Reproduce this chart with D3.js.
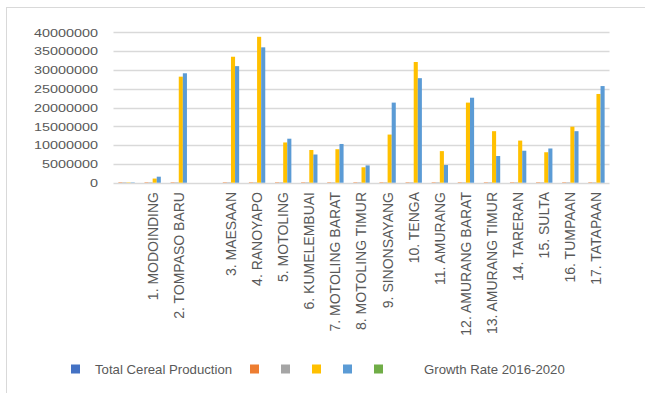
<!DOCTYPE html>
<html><head><meta charset="utf-8">
<script src="https://cdn.jsdelivr.net/npm/d3@7"></script>
<style>body{margin:0;background:#fff}svg{display:block}</style>
</head><body>
<svg id="chart" width="645" height="393"></svg>
<script>
const categories = ["", "1. MODOINDING", "2. TOMPASO BARU", " ", "3. MAESAAN", "4. RANOYAPO", "5. MOTOLING", "6. KUMELEMBUAI", "7. MOTOLING BARAT", "8. MOTOLING TIMUR", "9. SINONSAYANG", "10. TENGA", "11. AMURANG", "12. AMURANG BARAT", "13. AMURANG TIMUR", "14. TARERAN", "15. SULTA", "16. TUMPAAN", "17. TATAPAAN"];
const totalCerealProduction = [0, 0, 0, null, 0, 0, 0, 0, 0, 0, 0, 0, 0, 0, 0, 0, 0, 0, 0];
const seriesOrange = [120000, 120000, 120000, null, 120000, 120000, 120000, 120000, 120000, 120000, 120000, 120000, 120000, 120000, 120000, 120000, 120000, 120000, 120000];
const seriesGray = [120000, 120000, 120000, null, 120000, 120000, 120000, 120000, 120000, 120000, 120000, 120000, 120000, 120000, 120000, 120000, 120000, 120000, 120000];
const seriesYellow = [100000, 1100000, 28200000, null, 33500000, 38800000, 10700000, 8700000, 8900000, 4100000, 12800000, 32100000, 8400000, 21300000, 13700000, 11200000, 8100000, 14900000, 23600000];
const seriesBlue = [100000, 1600000, 29100000, null, 31000000, 36000000, 11700000, 7500000, 10300000, 4600000, 21300000, 27800000, 4700000, 22600000, 7100000, 8500000, 9100000, 13700000, 25700000];
const growthRate = [0, 0, 0, null, 0, 0, 0, 0, 0, 0, 0, 0, 0, 0, 0, 0, 0, 0, 0];
const yTicks = [0, 5000000, 10000000, 15000000, 20000000, 25000000, 30000000, 35000000, 40000000];
const legendLabels = ["Total Cereal Production", "", "", "", "", "", "Growth Rate 2016-2020"];

const seriesList = [
  {name: "Total Cereal Production", values: totalCerealProduction, color: "#4472C4"},
  {name: "", values: seriesOrange, color: "#ED7D31"},
  {name: "", values: seriesGray, color: "#A5A5A5"},
  {name: "", values: seriesYellow, color: "#FFC000"},
  {name: "", values: seriesBlue, color: "#5B9BD5"},
  {name: "", values: growthRate, color: "#70AD47"}
];

const svg = d3.select("#chart");
const font = "'Liberation Sans', Arial, sans-serif";
const textColor = "#595959";

svg.append("rect").attr("x", 6.5).attr("y", 7.5).attr("width", 645).attr("height", 400)
  .attr("fill", "none").attr("stroke", "#d9d9d9").attr("stroke-width", 1);

const x0 = d3.scaleBand().domain(d3.range(categories.length)).range([113.5, 609.5]).paddingInner(0.06).paddingOuter(0.03);
const x1 = d3.scaleBand().domain(d3.range(seriesList.length)).range([0, x0.bandwidth()]);
const y = d3.scaleLinear().domain([0, 40000000]).range([182.7, 32.3]);

svg.append("g").selectAll("line").data(yTicks).join("line")
  .attr("x1", 113.5).attr("x2", 609.5)
  .attr("y1", d => Math.round(y(d)) + 0.5).attr("y2", d => Math.round(y(d)) + 0.5)
  .attr("stroke", "#d9d9d9").attr("stroke-width", 1.3);

svg.append("g").selectAll("text").data(yTicks).join("text")
  .attr("transform", d => `translate(98,${y(d)}) scale(1.22,1)`)
  .attr("dy", "0.36em").attr("text-anchor", "end")
  .attr("font-family", font).attr("font-size", 11.8).attr("fill", textColor)
  .text(d => d3.format("d")(d));

const groups = svg.append("g").selectAll("g").data(categories.map((c, i) => i)).join("g")
  .attr("transform", i => `translate(${x0(i)},0)`);
groups.selectAll("rect").data(i => seriesList.map((s, k) => ({k, v: s.values[i], color: s.color}))
  .filter(d => d.v !== null && d.v > 0))
  .join("rect")
  .attr("x", d => x1(d.k)).attr("width", x1.bandwidth())
  .attr("y", d => y(d.v)).attr("height", d => y(0) - y(d.v))
  .attr("fill", d => d.color);

svg.append("g").selectAll("text").data(categories.map((c, i) => i)).join("text")
  .attr("transform", i => `translate(${x0(i) + x0.bandwidth() / 2},192) rotate(-90)`)
  .attr("dy", "0.35em").attr("text-anchor", "end")
  .attr("font-family", font).attr("font-size", 14).attr("fill", textColor)
  .text(i => categories[i].trim());

const legendSquares = [71, 250, 281, 312, 343, 374];
const legendY = 369;
svg.append("g").selectAll("rect").data(seriesList).join("rect")
  .attr("x", (d, i) => legendSquares[i]).attr("y", legendY - 4.5)
  .attr("width", 9).attr("height", 9).attr("fill", d => d.color);
const legendTextX = [95, null, null, null, null, null, 424];
svg.append("g").selectAll("text").data(legendLabels.map((l, i) => ({l, i})).filter(d => d.l))
  .join("text")
  .attr("x", d => legendTextX[d.i]).attr("y", legendY).attr("dy", "0.35em")
  .attr("font-family", font).attr("font-size", 13.2).attr("fill", textColor)
  .text(d => d.l);
</script>
</body></html>
